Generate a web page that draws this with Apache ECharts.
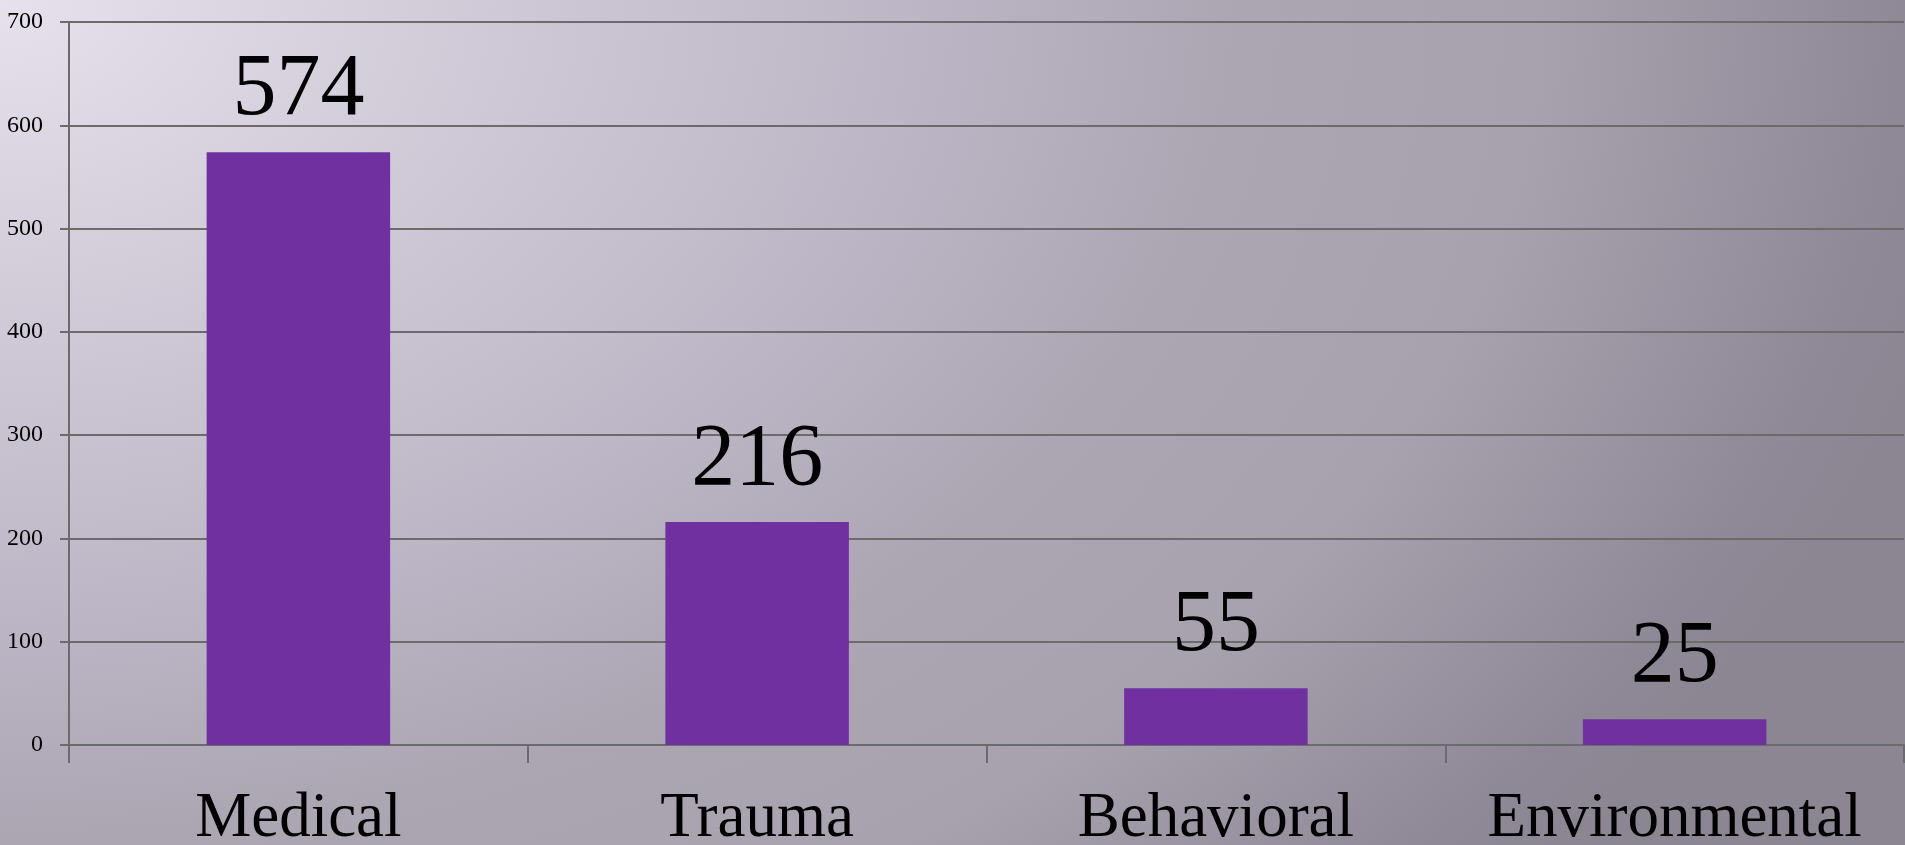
<!DOCTYPE html>
<html>
<head>
<meta charset="utf-8">
<script src="https://cdn.jsdelivr.net/npm/echarts@6/dist/echarts.min.js"></script>
<style>
html,body{margin:0;padding:0;width:1905px;height:845px;overflow:hidden;}
#chart{width:1905px;height:845px;
  background: radial-gradient(ellipse 2000px 1350px at 0 0,
    #e6e1ec 0%, #bbb4c4 47%, #aca6b3 62%, #a8a1ae 77%, #8f8896 95%, #8c8592 100%);
  background-color:#8c8592;}
</style>
</head>
<body>
<div id="chart"></div>
<script>
const categories = ['Medical', 'Trauma', 'Behavioral', 'Environmental'];
const values = [574, 216, 55, 25];
const yTicks = [0, 100, 200, 300, 400, 500, 600, 700];

const chart = echarts.init(document.getElementById('chart'));
const FONT = '"Liberation Serif", "Times New Roman", serif';
chart.setOption({
  animation: false,
  backgroundColor: 'transparent',
  grid: { left: 69, right: 1, top: 22, bottom: 100, containLabel: false, outerBoundsMode: 'none' },
  xAxis: {
    type: 'category',
    data: categories,
    boundaryGap: true,
    axisLine: { show: true, lineStyle: { color: '#6b6b6b', width: 2 } },
    axisTick: { show: true, interval: 0, length: 18, lineStyle: { color: '#6b6b6b', width: 2 } },
    axisLabel: { interval: 0, fontFamily: FONT, fontSize: 63, color: '#000', margin: 43 }
  },
  yAxis: {
    type: 'value',
    min: yTicks[0],
    max: yTicks[yTicks.length - 1],
    interval: 100,
    axisLine: { show: true, lineStyle: { color: '#6b6b6b', width: 2 } },
    axisTick: { show: true, length: 9, lineStyle: { color: '#6b6b6b', width: 2 } },
    splitLine: { show: true, lineStyle: { color: '#6b6b6b', width: 2 } },
    axisLabel: { fontFamily: FONT, fontSize: 24, color: '#000', margin: 26 }
  },
  series: [{
    type: 'bar',
    data: values,
    barWidth: '40%',
    itemStyle: { color: '#7030a0' },
    label: {
      show: true,
      position: 'top',
      distance: 17,
      fontFamily: FONT,
      fontSize: 88,
      color: '#000'
    }
  }]
});
</script>
</body>
</html>
